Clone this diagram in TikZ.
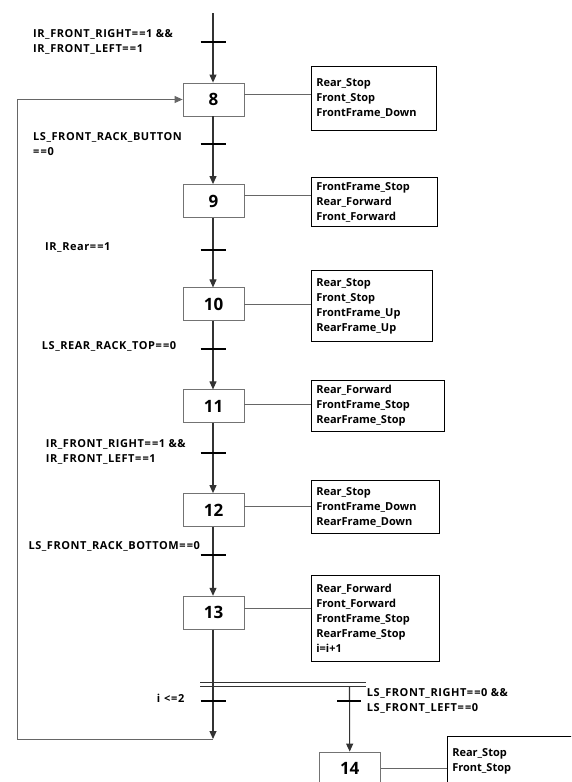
\documentclass[tikz,border=0pt]{standalone}
\usepackage{fontspec}
\setmainfont{Open Sans}
\usetikzlibrary{arrows.meta,calc}
\newcommand{\eqeq}{={\kern1.2pt}=}
\tikzset{
  stepbox/.style={draw=black!55,line width=0.8pt,minimum width=61pt,minimum height=33pt,inner sep=0pt,font=\fontsize{17}{17}\selectfont\bfseries},
  actbox/.style={draw=black,line width=1.2pt,anchor=north west,align=left,inner xsep=5pt,inner ysep=0pt,font=\fontsize{11}{15}\selectfont\bfseries},
  lbl/.style={anchor=west,align=left,inner sep=0pt,font=\fontsize{11}{15}\selectfont\bfseries\addfontfeature{LetterSpace=5}},
  flow/.style={draw=black!80,line width=1.1pt},
  arr/.style={flow,-{Triangle[length=8pt,width=7pt]}},
  tick/.style={draw=black,line width=1.8pt},
  conn/.style={draw=black!60,line width=0.7pt},
  back/.style={draw=black!60,line width=0.9pt},
}
\begin{document}
\begin{tikzpicture}[x=1pt,y=-1pt]
\useasboundingbox (0,0) rectangle (571,782);
\clip (0,0) rectangle (571,782);
% step boxes
\node[stepbox] (s8)  at (213.5,99.5) {8};
\node[stepbox] (s9)  at (213.5,201) {9};
\node[stepbox] (s10) at (213.5,304.3) {10};
\node[stepbox] (s11) at (213.5,406.3) {11};
\node[stepbox] (s12) at (213.5,510) {12};
\node[stepbox] (s13) at (213.5,612.7) {13};
\node[stepbox] (s14) at (349.7,768.5) {14};
% action boxes
\node[actbox,minimum width=125pt,minimum height=64pt,text width=115pt] (a8) at (310.7,66) {Rear\_Stop\\Front\_Stop\\FrontFrame\_Down};
\node[actbox,minimum width=126pt,minimum height=49pt,text width=116pt] (a9) at (310.7,177) {FrontFrame\_Stop\\Rear\_Forward\\Front\_Forward};
\node[actbox,minimum width=121pt,minimum height=71pt,text width=111pt] (a10) at (310.7,270) {Rear\_Stop\\Front\_Stop\\FrontFrame\_Up\\RearFrame\_Up};
\node[actbox,minimum width=133pt,minimum height=51pt,text width=123pt] (a11) at (310.7,380) {Rear\_Forward\\FrontFrame\_Stop\\RearFrame\_Stop};
\node[actbox,minimum width=128pt,minimum height=53pt,text width=118pt] (a12) at (310.7,480) {Rear\_Stop\\FrontFrame\_Down\\RearFrame\_Down};
\node[actbox,minimum width=128pt,minimum height=86pt,text width=118pt] (a13) at (310.7,575) {Rear\_Forward\\Front\_Forward\\FrontFrame\_Stop\\RearFrame\_Stop\\i=i+1};
\node[actbox,inner ysep=12pt,minimum width=150pt,text width=140pt] (a14) at (446.7,736) {Rear\_Stop\\Front\_Stop\\};
% step-action connectors
\draw[conn] ([yshift=5.5pt]s8.east) -- ([yshift=5.5pt]s8.east -| a8.west);
\draw[conn] ([yshift=5.3pt]s9.east) -- ([yshift=5.3pt]s9.east -| a9.west);
\draw[conn] (s10.east) -- (s10.east -| a10.west);
\draw[conn] ([yshift=2.3pt]s11.east) -- ([yshift=2.3pt]s11.east -| a11.west);
\draw[conn] ([yshift=4pt]s12.east) -- ([yshift=4pt]s12.east -| a12.west);
\draw[conn] ([yshift=4.7pt]s13.east) -- ([yshift=4.7pt]s13.east -| a13.west);
\draw[conn] (s14.east) -- (s14.east -| a14.west);
% coordinates
\coordinate (top) at (213,13);
\coordinate (bot) at (213,739);
\coordinate (dl) at (200,682);
\coordinate (dr) at (366,682);
\coordinate (br) at (349.5,686);
\coordinate (lc) at (17,739);
% flow
\draw[arr] (top) -- (s8.north -| top);
\draw[arr] (s8.south -| top) -- (s9.north -| top);
\draw[arr] (s9.south -| top) -- (s10.north -| top);
\draw[arr] (s10.south -| top) -- (s11.north -| top);
\draw[arr] (s11.south -| top) -- (s12.north -| top);
\draw[arr] (s12.south -| top) -- (s13.north -| top);
\draw[arr] (s13.south -| top) -- (bot);
\draw[arr] (br) -- (s14.north);
% double bar
\draw[flow,line width=1pt] (dl) -- (dr);
\draw[flow,line width=1pt] ([yshift=-4pt]dl) -- ([yshift=-4pt]dr);
% loop back
\draw[back,-{Triangle[length=8pt,width=7pt]}] (bot) -- (lc) -- (lc |- s8.west) -- (s8.west);
% ticks
\foreach \y in {42,144,250,349.3,452.7,555.3,700.7}{
  \draw[tick] (200.5,\y) -- (225.5,\y);
}
\draw[tick] (337,700.7) -- (361,700.7);
% labels
\node[lbl] (l1) at (33,41.5) {IR\_FRONT\_RIGHT\eqeq1 \&\&\\IR\_FRONT\_LEFT\eqeq1};
\node[lbl] (l2) at (33,144.5) {LS\_FRONT\_RACK\_BUTTON\\\eqeq0};
\node[lbl] (l3) at (45,247.7) {IR\_Rear\eqeq1};
\node[lbl] (l4) at (41.7,346.7) {LS\_REAR\_RACK\_TOP\eqeq0};
\node[lbl] (l5) at (45.7,452) {IR\_FRONT\_RIGHT\eqeq1 \&\&\\IR\_FRONT\_LEFT\eqeq1};
\node[lbl] (l6) at (28.3,546) {LS\_FRONT\_RACK\_BOTTOM\eqeq0};
\node[lbl] (l7) at (156.7,698.3) {i {\kern0.5pt}<{\kern0.8pt}=2};
\node[lbl] (l8) at (366.7,701) {LS\_FRONT\_RIGHT\eqeq0 \&\&\\LS\_FRONT\_LEFT\eqeq0};
\end{tikzpicture}
\end{document}
